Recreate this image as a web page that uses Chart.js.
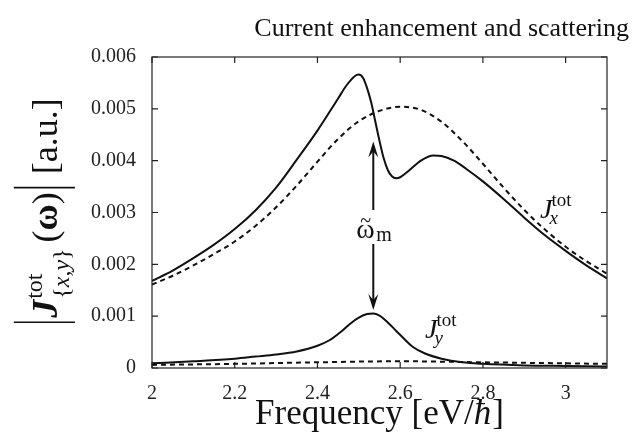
<!DOCTYPE html>
<html>
<head>
<meta charset="utf-8">
<script src="https://cdn.jsdelivr.net/npm/chart.js@4.4.0/dist/chart.umd.min.js"></script>
<style>
  html, body { margin: 0; padding: 0; background: #fff; }
  #wrap { width: 634px; height: 435px; }
</style>
</head>
<body>
<div id="wrap"><canvas id="myChart"></canvas></div>
<script>
const SERIF = "'Liberation Serif', 'Times New Roman', serif";
const INK = "#111";

// |J_x^tot| solid
const freqX = [2.00, 2.05, 2.10, 2.15, 2.20, 2.25, 2.30, 2.35, 2.40, 2.45, 2.47, 2.49, 2.50, 2.51,
  2.52, 2.53, 2.54, 2.55, 2.56, 2.57, 2.58, 2.59, 2.60, 2.62, 2.65, 2.68, 2.70, 2.73, 2.76, 2.80,
  2.85, 2.90, 2.95, 3.00, 3.05, 3.10];
const jxSolid = [0.00168, 0.00188, 0.00212, 0.00238, 0.00268, 0.00304, 0.00348, 0.00402, 0.00458,
  0.00520, 0.00545, 0.00563, 0.00566, 0.00560, 0.00540, 0.00512, 0.00475, 0.00438, 0.00405,
  0.00382, 0.00370, 0.00366, 0.00368, 0.00380, 0.00400, 0.00410, 0.00409, 0.00400, 0.00384,
  0.00360, 0.00326, 0.00290, 0.00256, 0.00226, 0.00198, 0.00173];

// |J_x^tot| dashed
const freqXd = [2.00, 2.05, 2.10, 2.15, 2.20, 2.25, 2.30, 2.35, 2.40, 2.45, 2.50, 2.55, 2.60, 2.65,
  2.70, 2.75, 2.80, 2.85, 2.90, 2.95, 3.00, 3.05, 3.10];
const jxDashed = [0.00161, 0.00178, 0.00198, 0.00220, 0.00244, 0.00274, 0.00310, 0.00352, 0.00398,
  0.00442, 0.00476, 0.00496, 0.00504, 0.00498, 0.00475, 0.00438, 0.00394, 0.00348, 0.00305,
  0.00267, 0.00234, 0.00206, 0.00182];

// |J_y^tot| solid
const freqY = [2.00, 2.10, 2.20, 2.25, 2.30, 2.35, 2.40, 2.43, 2.46, 2.48, 2.50, 2.52, 2.535, 2.55,
  2.57, 2.59, 2.61, 2.63, 2.66, 2.70, 2.75, 2.80, 2.90, 3.00, 3.10];
const jySolid = [0.00009, 0.00013, 0.00018, 0.00022, 0.00026, 0.00032, 0.00043, 0.00054, 0.00072,
  0.00086, 0.00097, 0.00104, 0.00105, 0.00101, 0.00088, 0.00072, 0.00056, 0.00041, 0.00028,
  0.00018, 0.00011, 0.00008, 0.00005, 0.00004, 0.00003];

// |J_y^tot| dashed
const freqYd = [2.0, 2.2, 2.4, 2.6, 2.8, 3.0, 3.1];
const jyDashed = [0.00006, 0.00008, 0.00011, 0.00013, 0.00011, 0.00009, 0.00008];

// annotations (data coordinates)
const arrowFreq = 2.535;
const arrowTop = 0.00437;
const arrowBottom = 0.00112;
const omegaLabelY = 0.00270;
const jxLabelAt = [2.938, 0.00290];
const jyLabelAt = [2.660, 0.00058];

const toPoints = (xs, ys) => xs.map((v, i) => ({ x: v, y: ys[i] }));

const line = (pts, dashed) => ({
  data: pts,
  borderColor: INK,
  borderWidth: 2,
  borderDash: dashed ? [5, 4] : [],
  pointRadius: 0,
  fill: false,
  cubicInterpolationMode: "monotone",
});

function drawSup(ctx, px, py, base, sup, sub) {
  ctx.font = `italic 28px ${SERIF}`;
  ctx.textAlign = "left";
  ctx.fillText(base, px, py);
  const w = ctx.measureText(base).width;
  ctx.font = `19px ${SERIF}`;
  ctx.fillText(sup, px + w - 1, py - 12);
  ctx.font = `italic 19px ${SERIF}`;
  ctx.fillText(sub, px + w - 3, py + 6);
}

// draw a list of text runs left to right, centred on (0,0) of the current transform
function drawRuns(ctx, runs, barTop, barBottom) {
  const widthOf = (r) => {
    if (r.bar) return 9;
    if (r.gap) return r.gap;
    if (r.stack) return Math.max(...r.stack.map(seq => seq.reduce((s, q) => { ctx.font = q.f; return s + ctx.measureText(q.t).width; }, 0)));
    ctx.font = r.f; return ctx.measureText(r.t).width;
  };
  const total = runs.reduce((s, r) => s + widthOf(r), 0);
  let pos = -total / 2;
  runs.forEach(r => {
    const w = widthOf(r);
    if (r.bar) {
      ctx.lineWidth = 1.6;
      ctx.beginPath();
      ctx.moveTo(pos + w / 2, barTop);
      ctx.lineTo(pos + w / 2, barBottom);
      ctx.stroke();
    } else if (r.stack) {
      r.stack.forEach(seq => {
        let p = pos + 1;
        seq.forEach(q => { ctx.font = q.f; ctx.fillText(q.t, p, q.dy); p += ctx.measureText(q.t).width; });
      });
    } else if (r.t) {
      ctx.font = r.f;
      ctx.fillText(r.t, pos, 0);
    }
    pos += w;
  });
}

function drawYLabel(ctx, cx, cy) {
  const F = 36, S = 24;
  const sub = 0.32 * F;
  const runs = [
    { bar: true },
    { t: "J", f: `italic bold ${F}px ${SERIF}` },
    { stack: [
      [{ t: "tot", f: `${S}px ${SERIF}`, dy: -0.42 * F }],
      [{ t: "{", f: `${S}px ${SERIF}`, dy: sub }, { t: "x", f: `italic ${S}px ${SERIF}`, dy: sub },
       { t: ",", f: `${S}px ${SERIF}`, dy: sub }, { t: "y", f: `italic ${S}px ${SERIF}`, dy: sub },
       { t: "}", f: `${S}px ${SERIF}`, dy: sub }],
    ] },
    { gap: 7 },
    { t: "(", f: `${F}px ${SERIF}` },
    { t: "\u03c9", f: `bold ${F}px ${SERIF}` },
    { t: ")", f: `${F}px ${SERIF}` },
    { bar: true },
    { gap: 9 },
    { t: "[a.u.]", f: `${F}px ${SERIF}` },
  ];
  ctx.save();
  ctx.translate(cx, cy);
  ctx.rotate(-Math.PI / 2);
  ctx.fillStyle = INK;
  ctx.strokeStyle = INK;
  ctx.textAlign = "left";
  ctx.textBaseline = "alphabetic";
  drawRuns(ctx, runs, -1.2 * F, 0.5 * F);
  ctx.restore();
}

function drawXLabel(ctx, cx, baseY) {
  const F = 35;
  const runs = [
    { t: "Frequency [eV/", f: `${F}px ${SERIF}` },
    { t: "\u0127", f: `italic ${F}px ${SERIF}` },
    { gap: 1 },
    { t: "]", f: `${F}px ${SERIF}` },
  ];
  ctx.save();
  ctx.translate(cx, baseY);
  ctx.fillStyle = INK;
  ctx.textAlign = "left";
  ctx.textBaseline = "alphabetic";
  drawRuns(ctx, runs, 0, 0);
  ctx.restore();
}

const decorations = {
  id: "decorations",
  afterDatasetsDraw(chart) {
    const { ctx, chartArea: a, scales: { x, y } } = chart;
    ctx.save();
    // frame and inward ticks
    ctx.strokeStyle = "#222";
    ctx.lineWidth = 1.2;
    ctx.strokeRect(a.left, a.top, a.right - a.left, a.bottom - a.top);
    const tl = 6;
    ctx.beginPath();
    x.ticks.forEach(t => {
      const px = x.getPixelForValue(t.value);
      ctx.moveTo(px, a.bottom); ctx.lineTo(px, a.bottom - tl);
      ctx.moveTo(px, a.top); ctx.lineTo(px, a.top + tl);
    });
    y.ticks.forEach(t => {
      const py = y.getPixelForValue(t.value);
      ctx.moveTo(a.left, py); ctx.lineTo(a.left + tl, py);
      ctx.moveTo(a.right, py); ctx.lineTo(a.right - tl, py);
    });
    ctx.stroke();

    // double arrow with omega label
    const ax = x.getPixelForValue(arrowFreq);
    const top = y.getPixelForValue(arrowTop);
    const bot = y.getPixelForValue(arrowBottom);
    const ly = y.getPixelForValue(omegaLabelY);
    ctx.strokeStyle = INK;
    ctx.fillStyle = INK;
    ctx.lineWidth = 2;
    ctx.beginPath();
    ctx.moveTo(ax, top + 8); ctx.lineTo(ax, ly - 18);
    ctx.moveTo(ax, ly + 16); ctx.lineTo(ax, bot - 8);
    ctx.stroke();
    const head = (tipY, dir) => {
      ctx.beginPath();
      ctx.moveTo(ax, tipY);
      ctx.lineTo(ax - 5, tipY + dir * 16);
      ctx.lineTo(ax, tipY + dir * 10);
      ctx.lineTo(ax + 5, tipY + dir * 16);
      ctx.closePath();
      ctx.fill();
    };
    head(top, 1);
    head(bot, -1);
    ctx.textAlign = "left";
    ctx.textBaseline = "alphabetic";
    ctx.font = `28px ${SERIF}`;
    ctx.fillText("\u03c9", ax - 17, ly + 10);
    ctx.font = `20px ${SERIF}`;
    ctx.fillText("~", ax - 13, ly - 1);
    ctx.fillText("m", ax + 3, ly + 13);

    // series labels
    drawSup(ctx, x.getPixelForValue(jxLabelAt[0]), y.getPixelForValue(jxLabelAt[1]), "J", "tot", "x");
    drawSup(ctx, x.getPixelForValue(jyLabelAt[0]), y.getPixelForValue(jyLabelAt[1]), "J", "tot", "y");
    ctx.restore();
  },
  afterDraw(chart) {
    const { ctx, chartArea: a } = chart;
    ctx.save();
    ctx.fillStyle = INK;
    ctx.font = `26px ${SERIF}`;
    ctx.textAlign = "right";
    ctx.textBaseline = "alphabetic";
    ctx.fillText("Current enhancement and scattering", 629, 36);
    ctx.restore();
    drawYLabel(ctx, 57, (a.top + a.bottom) / 2);
    drawXLabel(ctx, (a.left + a.right) / 2, 424);
  },
};

new Chart("myChart", {
  type: "line",
  data: {
    datasets: [
      line(toPoints(freqX, jxSolid), false),
      line(toPoints(freqXd, jxDashed), true),
      line(toPoints(freqY, jySolid), false),
      line(toPoints(freqYd, jyDashed), true),
    ],
  },
  options: {
    responsive: true,
    maintainAspectRatio: false,
    animation: false,
    devicePixelRatio: 1,
    layout: { padding: { left: 0, right: 27, top: 57, bottom: 0 } },
    plugins: {
      legend: { display: false },
      tooltip: { enabled: false },
    },
    scales: {
      x: {
        type: "linear",
        min: 2,
        max: 3.1,
        grid: { display: false },
        border: { display: false },
        afterFit: (s) => { s.height = 67; },
        ticks: {
          stepSize: 0.2,
          includeBounds: false,
          color: "#222",
          padding: 6,
          font: { family: SERIF, size: 20 },
          callback: (v) => String(Number(v.toFixed(1))),
        },
      },
      y: {
        min: 0,
        max: 0.006,
        grid: { display: false },
        border: { display: false },
        afterFit: (s) => { s.width = 152; },
        ticks: {
          stepSize: 0.001,
          color: "#222",
          padding: 8,
          font: { family: SERIF, size: 20 },
          callback: (v) => (v === 0 ? "0" : v.toFixed(3)),
        },
      },
    },
  },
  plugins: [decorations],
});
</script>
</body>
</html>
